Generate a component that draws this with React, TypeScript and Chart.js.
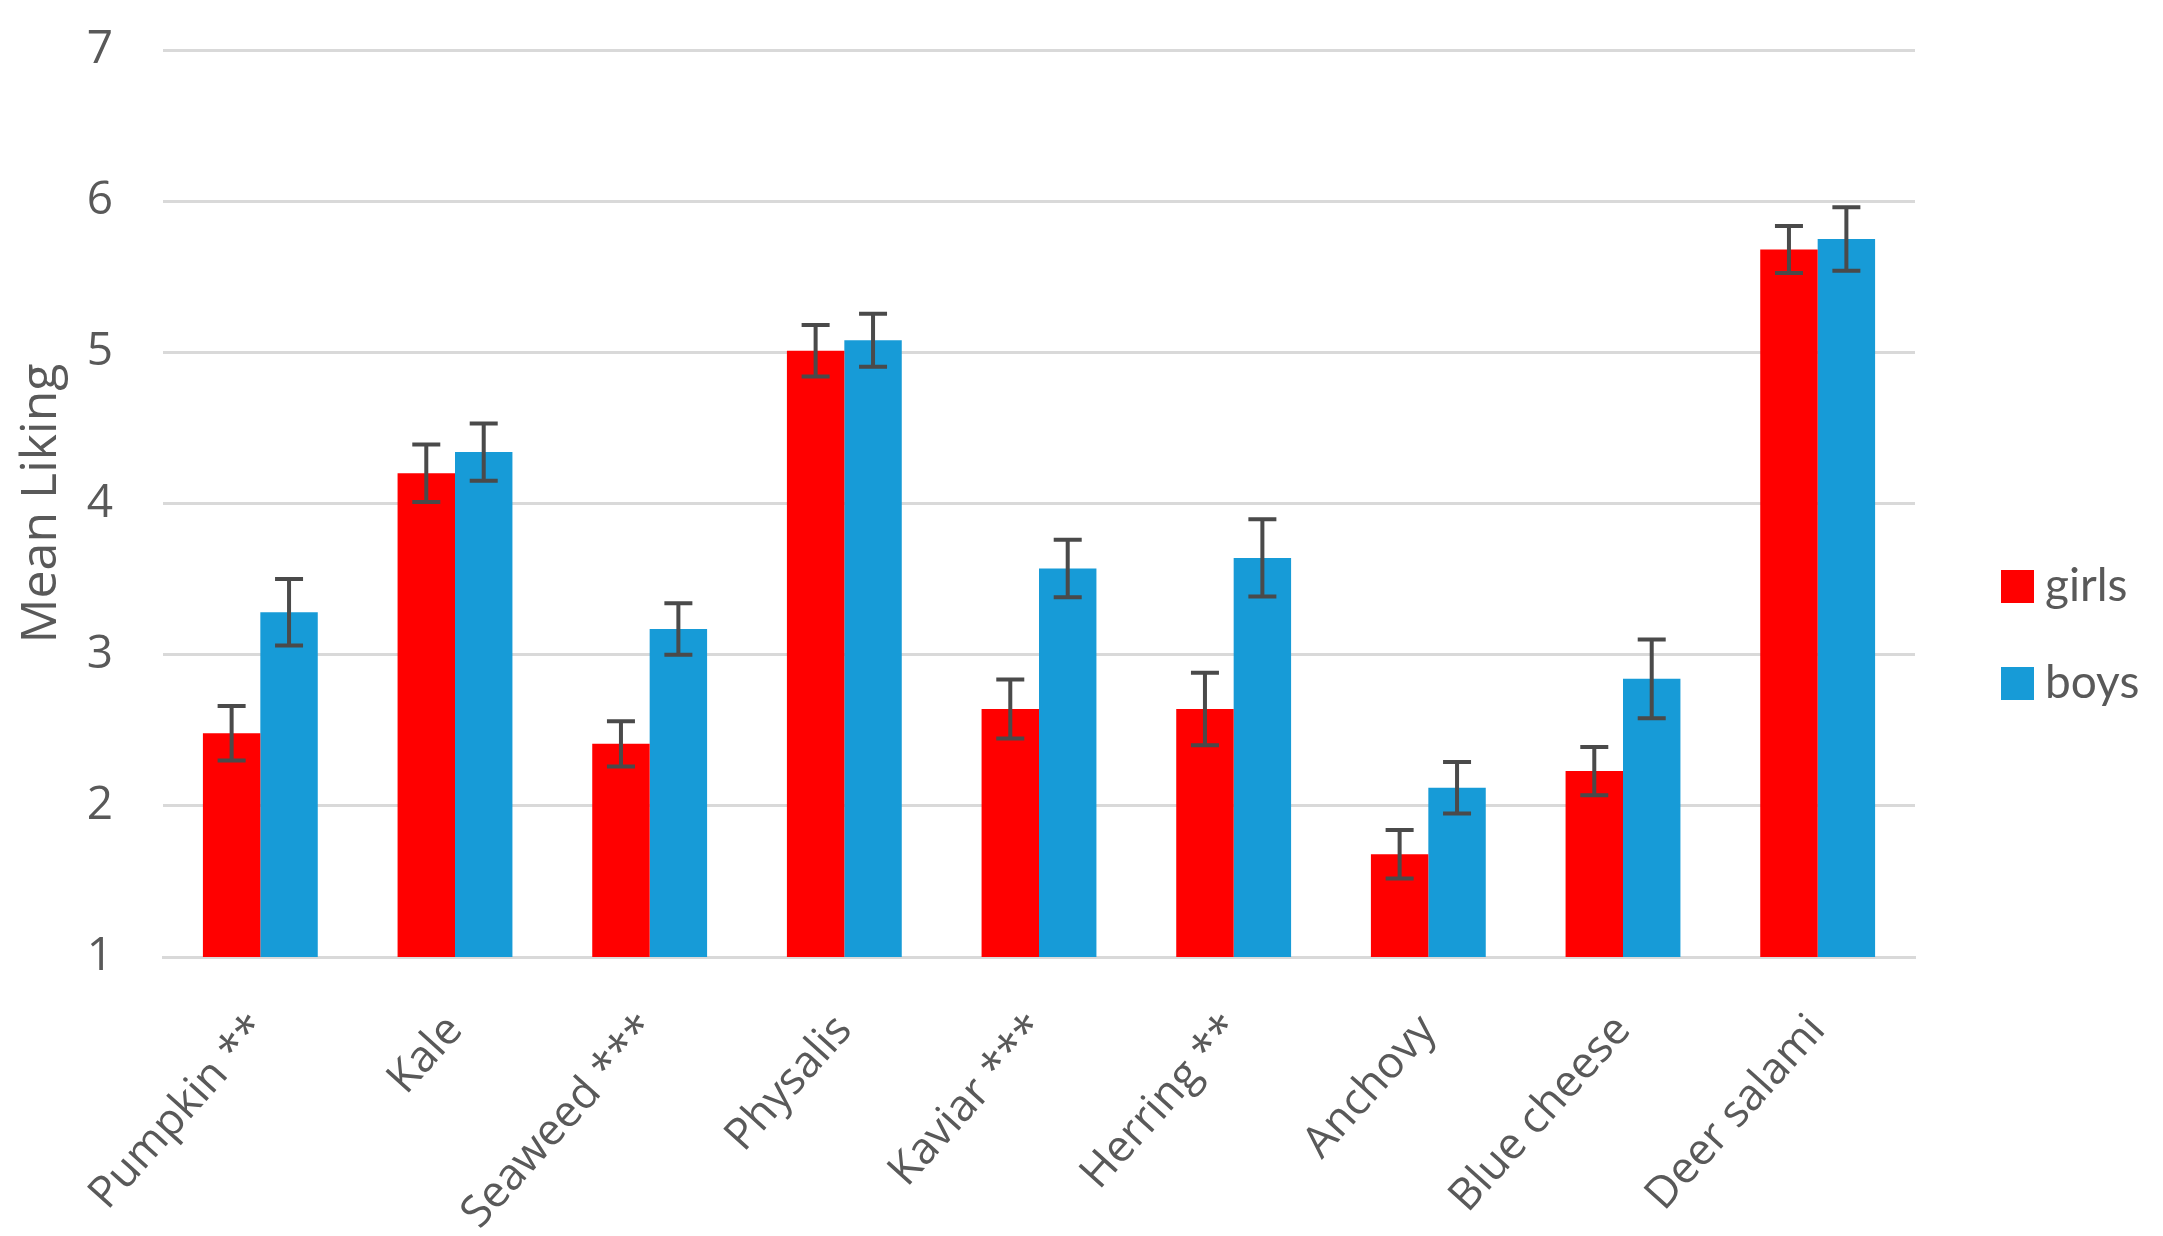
import React, { useEffect, useRef } from "react";
import { Chart, registerables } from "chart.js";

Chart.register(...registerables);

const categories = [
  "Pumpkin **",
  "Kale",
  "Seaweed ***",
  "Physalis",
  "Kaviar ***",
  "Herring **",
  "Anchovy",
  "Blue cheese",
  "Deer salami",
];
const girls = [2.48, 4.2, 2.41, 5.01, 2.64, 2.64, 1.68, 2.23, 5.68];
const boys = [3.28, 4.34, 3.17, 5.08, 3.57, 3.64, 2.12, 2.84, 5.75];
const girlsErr = [0.18, 0.19, 0.15, 0.17, 0.195, 0.24, 0.16, 0.16, 0.155];
const boysErr = [0.22, 0.19, 0.17, 0.175, 0.19, 0.255, 0.17, 0.26, 0.21];
const seriesNames = ["girls", "boys"];
const yTicks = [1, 2, 3, 4, 5, 6, 7];

const RED = "#ff0000";
const BLUE = "#179bd7";
const TEXT = "#595959";
const GRID = "#d9d9d9";
const AXIS_FONT = "'Open Sans', 'DejaVu Sans', sans-serif";

const W = 2163;
const H = 1236;

function swatch(color: string, w: number, h: number) {
  const c = document.createElement("canvas");
  c.width = w;
  c.height = h;
  const g = c.getContext("2d")!;
  g.fillStyle = color;
  g.fillRect(0, 0, w, h);
  return c;
}

export default function App() {
  const ref = useRef<HTMLCanvasElement | null>(null);

  useEffect(() => {
    const errs = [girlsErr, boysErr];
    const errorBars = {
      id: "errorBars",
      afterDatasetsDraw(chart: any) {
        const ctx = chart.ctx;
        const ys = chart.scales.y;
        chart.data.datasets.forEach((ds: any, di: number) => {
          const meta = chart.getDatasetMeta(di);
          meta.data.forEach((bar: any, i: number) => {
            const v = ds.data[i];
            const e = errs[di][i];
            const x = bar.x;
            const t = ys.getPixelForValue(v + e);
            const b = ys.getPixelForValue(v - e);
            ctx.save();
            ctx.strokeStyle = "#4a4a4a";
            ctx.lineWidth = 4;
            ctx.beginPath();
            ctx.moveTo(x, t);
            ctx.lineTo(x, b);
            ctx.moveTo(x - 14, t);
            ctx.lineTo(x + 14, t);
            ctx.moveTo(x - 14, b);
            ctx.lineTo(x + 14, b);
            ctx.stroke();
            ctx.restore();
          });
        });
      },
    };

    const legendTweak = {
      id: "legendTweak",
      beforeLayout(chart: any) {
        const lg = chart.legend;
        if (lg && !lg._patched) {
          const orig = lg.fit.bind(lg);
          lg.fit = () => {
            orig();
            lg.width = 248;
          };
          lg._patched = true;
        }
      },
      afterLayout(chart: any) {
        const lg = chart.legend;
        if (lg) {
          lg.left += 46;
          lg.right += 46;
          lg.top -= 8;
          lg.bottom -= 8;
        }
      },
    };

    const colors = [RED, BLUE];
    const chart = new Chart(ref.current!, {
      type: "bar",
      data: {
        labels: categories,
        datasets: [
          { label: seriesNames[0], data: girls, backgroundColor: RED, borderWidth: 0 },
          { label: seriesNames[1], data: boys, backgroundColor: BLUE, borderWidth: 0 },
        ],
      },
      options: {
        responsive: false,
        animation: false,
        devicePixelRatio: 1,
        layout: { padding: { top: 50, right: 0, bottom: 0, left: 0 } },
        datasets: {
          bar: { categoryPercentage: 0.59, barPercentage: 1.0 },
        },
        plugins: {
          tooltip: { enabled: false },
          legend: {
            position: "right",
            labels: {
              usePointStyle: true,
              pointStyleWidth: 10,
              boxHeight: 32,
              padding: 51,
              color: TEXT,
              font: { family: "Lato", size: 46 },
              generateLabels: (c: any) =>
                c.data.datasets.map((ds: any, i: number) => ({
                  text: ds.label,
                  fillStyle: colors[i],
                  strokeStyle: colors[i],
                  lineWidth: 0,
                  pointStyle: swatch(colors[i], 33, 33),
                  datasetIndex: i,
                  hidden: false,
                  fontColor: TEXT,
                })),
            },
          },
        },
        scales: {
          x: {
            grid: { display: false, drawTicks: false },
            border: { display: true, color: GRID, width: 3 },
            ticks: {
              color: TEXT,
              font: { family: AXIS_FONT, size: 44 },
              minRotation: 48,
              maxRotation: 48,
              autoSkip: false,
              padding: 48,
            },
            afterFit: (s: any) => {
              s.height = 279;
            },
          },
          y: {
            min: 1,
            max: 7,
            afterBuildTicks: (s: any) => {
              s.ticks = yTicks.map((v) => ({ value: v }));
            },
            grid: {
              color: GRID,
              lineWidth: 3,
              drawTicks: true,
              tickLength: 50,
              tickColor: "rgba(0,0,0,0)",
            },
            border: { display: false },
            ticks: {
              color: TEXT,
              font: { family: AXIS_FONT, size: 46 },
              padding: 0,
            },
            title: {
              display: true,
              text: "Mean Liking",
              color: TEXT,
              font: { family: AXIS_FONT, size: 50 },
              padding: { top: 12, bottom: 0 },
            },
            afterFit: (s: any) => {
              s.width = 163;
            },
          },
        },
      },
      plugins: [errorBars, legendTweak],
    });
    return () => chart.destroy();
  }, []);

  return (
    <div style={{ position: "absolute", left: 0, top: 0, width: W, height: H, background: "#fff" }}>
      <canvas ref={ref} width={W} height={H} style={{ width: W, height: H, display: "block" }} />
    </div>
  );
}
